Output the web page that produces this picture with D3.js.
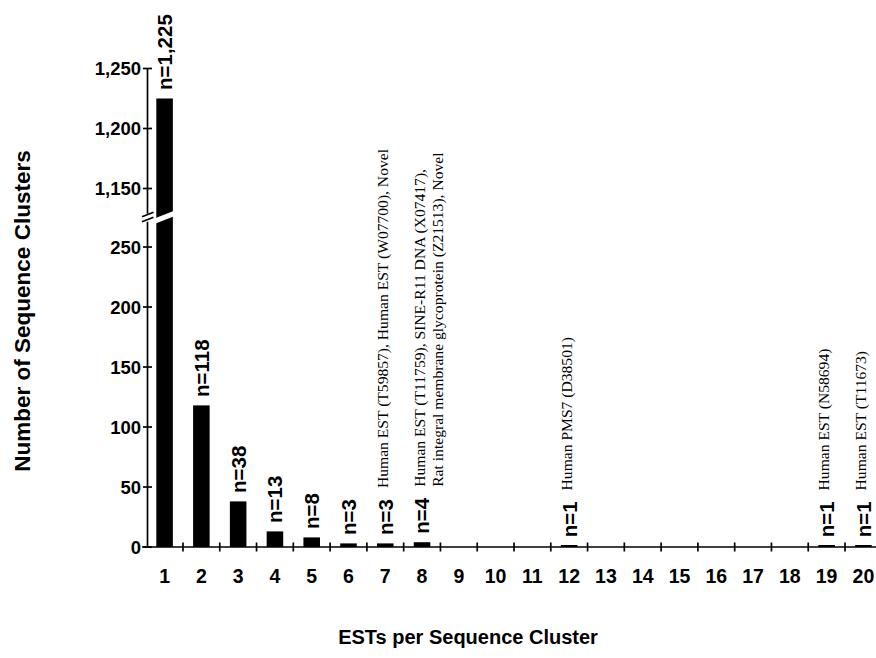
<!DOCTYPE html>
<html>
<head>
<meta charset="utf-8">
<script src="https://cdn.jsdelivr.net/npm/d3@7"></script>
<style>
  html, body { margin: 0; padding: 0; background: #fff; }
  svg { display: block; }
</style>
</head>
<body>
<svg id="chart" width="876" height="658"></svg>
<script>
// ---- Data ----
const categories = ["1","2","3","4","5","6","7","8","9","10","11","12","13","14","15","16","17","18","19","20"];
const values = [1225, 118, 38, 13, 8, 3, 3, 4, 0, 0, 0, 1, 0, 0, 0, 0, 0, 0, 1, 1];
const valueLabels = ["n=1,225", "n=118", "n=38", "n=13", "n=8", "n=3", "n=3", "n=4", "", "", "", "n=1", "", "", "", "", "", "", "n=1", "n=1"];
const yTicksLow = [0, 50, 100, 150, 200, 250];
const yTicksHigh = [1150, 1200, 1250];
const annotationCategories = ["7", "8", "12", "19", "20"];
const annotationTexts = [
  ["Human EST (T59857), Human EST (W07700), Novel"],
  ["Human EST (T11759), SINE-R11 DNA (X07417),", "Rat integral membrane glycoprotein (Z21513), Novel"],
  ["Human PMS7 (D38501)"],
  ["Human EST (N58694)"],
  ["Human EST (T11673)"]
];
const xTitle = "ESTs per Sequence Cluster";
const yTitle = "Number of Sequence Clusters";

// ---- Layout ----
const svg = d3.select("#chart");
const sans = "'Liberation Sans', Arial, Helvetica, sans-serif";
const serif = "'Liberation Serif', 'Times New Roman', serif";

const x = d3.scaleBand().domain(categories).range([146.2, 881.8]).paddingInner(0.55).paddingOuter(0.275);
const yLow = d3.scaleLinear().domain([0, 250]).range([547, 247]);
const yHigh = d3.scaleLinear().domain([1150, 1250]).range([188.5, 68.5]);
const lowMax = 271;    // top of lower axis segment (value)
const highMin = 1129;  // bottom of upper axis segment (value)
const y = v => (v <= lowMax ? yLow(v) : yHigh(v));

const axisX = 147.5;
const baseY = yLow(0);

// ---- Bars ----
const data = categories.map((c, i) => ({ c, v: values[i], label: valueLabels[i] }));
svg.append("g").selectAll("rect")
  .data(data.filter(d => d.v > 0))
  .join("rect")
  .attr("x", d => x(d.c))
  .attr("width", x.bandwidth())
  .attr("y", d => Math.min(y(d.v), baseY - 2))
  .attr("height", d => Math.max(baseY - y(d.v), 2))
  .attr("fill", "#000");

// break cut through the tall bar
const bigBars = data.filter(d => d.v > lowMax);
const breakY = (yLow(lowMax) + yHigh(highMin)) / 2;
svg.append("g").selectAll("path")
  .data(bigBars)
  .join("path")
  .attr("d", d => {
    const x0 = x(d.c) - 2, x1 = x(d.c) + x.bandwidth() + 2;
    const k = 7 / 18;
    const yl = breakY + 3.5, yr = yl - (x1 - x0) * k;
    return `M${x0},${yl - 2.8}L${x1},${yr - 2.8}L${x1},${yr + 2.8}L${x0},${yl + 2.8}Z`;
  })
  .attr("fill", "#fff");

// ---- Axes ----
const axisG = svg.append("g").attr("stroke", "#000").attr("stroke-width", 1.7).attr("fill", "none");
axisG.append("line").attr("x1", 142).attr("x2", 876).attr("y1", baseY).attr("y2", baseY);
axisG.selectAll("line.xt")
  .data(categories.slice(1))
  .join("line")
  .attr("class", "xt")
  .attr("x1", d => x(d) - x.step() * x.paddingInner() / 2)
  .attr("x2", d => x(d) - x.step() * x.paddingInner() / 2)
  .attr("y1", baseY - 4.5).attr("y2", baseY + 4.5);
axisG.append("line").attr("x1", axisX).attr("x2", axisX).attr("y1", baseY).attr("y2", yLow(lowMax));
axisG.append("line").attr("x1", axisX).attr("x2", axisX).attr("y1", yHigh(highMin)).attr("y2", yHigh(1250));
[0, 5].forEach(o => {
  axisG.append("line")
    .attr("x1", axisX - 5.5).attr("y1", breakY + 2 + o - 3)
    .attr("x2", axisX + 6).attr("y2", breakY - 2.5 + o - 3);
});
axisG.selectAll("line.ytl").data(yTicksLow).join("line").attr("class", "ytl")
  .attr("x1", axisX - 4.5).attr("x2", axisX + 4.5).attr("y1", d => yLow(d)).attr("y2", d => yLow(d));
axisG.selectAll("line.yth").data(yTicksHigh).join("line").attr("class", "yth")
  .attr("x1", axisX - 4.5).attr("x2", axisX + 4.5).attr("y1", d => yHigh(d)).attr("y2", d => yHigh(d));

// tick labels
const fmt = d3.format(",");
const tickText = svg.append("g").attr("font-family", sans).attr("font-weight", "bold").attr("font-size", 18.5).attr("fill", "#000");
tickText.selectAll("text.yl").data(yTicksLow).join("text").attr("class", "yl")
  .attr("x", 141).attr("y", d => yLow(d)).attr("dy", "0.36em").attr("text-anchor", "end").text(d => fmt(d));
tickText.selectAll("text.yh").data(yTicksHigh).join("text").attr("class", "yh")
  .attr("x", 141).attr("y", d => yHigh(d)).attr("dy", "0.36em").attr("text-anchor", "end").text(d => fmt(d));
tickText.selectAll("text.xl").data(categories).join("text").attr("class", "xl")
  .attr("x", d => x(d) + x.bandwidth() / 2).attr("y", 583).attr("text-anchor", "middle")
  .attr("font-size", 19.5).text(d => d);

// value labels (rotated)
const labelGap = 8.5;
const labelSize = 20.5;
svg.append("g").selectAll("text")
  .data(data.filter(d => d.label))
  .join("text")
  .attr("transform", d => `translate(${x(d.c) + x.bandwidth() / 2},${y(d.v) - labelGap}) rotate(-90)`)
  .attr("dy", "0.36em")
  .attr("font-family", sans).attr("font-weight", "bold").attr("font-size", labelSize)
  .text(d => d.label);

// annotations
const measure = svg.append("text").attr("font-family", sans).attr("font-weight", "bold").attr("font-size", labelSize);
annotationCategories.forEach((c, i) => {
  const d = data.find(e => e.c === c);
  measure.text(d.label);
  const w = measure.node().getComputedTextLength();
  const bottom = y(d.v) - labelGap - w - 11;
  const t = svg.append("text")
    .attr("transform", `translate(${x(c) + x.bandwidth() / 2 - 3},${bottom}) rotate(-90)`)
    .attr("font-family", serif).attr("font-size", 15.6).attr("fill", "#000");
  annotationTexts[i].forEach((line, j) => {
    t.append("tspan").attr("x", 0).attr("dy", j === 0 ? "0.36em" : "1.2em").text(line);
  });
});
measure.remove();

// titles
svg.append("text")
  .attr("x", 468).attr("y", 644).attr("text-anchor", "middle")
  .attr("font-family", sans).attr("font-weight", "bold").attr("font-size", 20)
  .text(xTitle);
svg.append("text")
  .attr("transform", "translate(30,311) rotate(-90)").attr("text-anchor", "middle")
  .attr("font-family", sans).attr("font-weight", "bold").attr("font-size", 22.5)
  .text(yTitle);
</script>
</body>
</html>
